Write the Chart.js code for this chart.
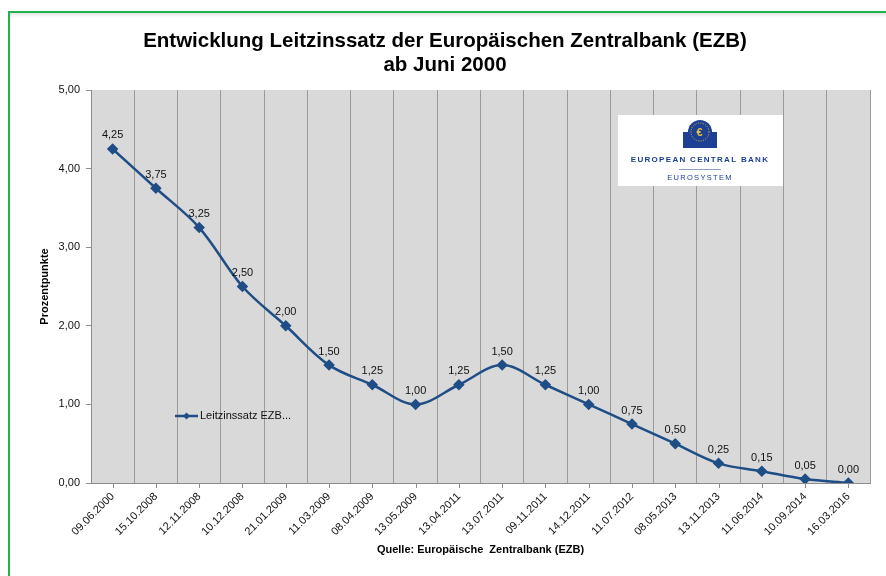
<!DOCTYPE html>
<html>
<head>
<meta charset="utf-8">
<script src="https://cdn.jsdelivr.net/npm/chart.js@4.4.1/dist/chart.umd.min.js"></script>
<style>
  html, body { margin: 0; padding: 0; background: #fff; }
  #frame {
    position: absolute; left: 8px; top: 11px; width: 900px; height: 600px;
    border-left: 2px solid #22b14c; border-top: 2px solid #22b14c;
    box-shadow: inset 0 4px 4px -2px rgba(0,0,0,0.12);
  }
  #wrap { position: absolute; left: 0; top: 0; width: 886px; height: 576px; }
</style>
</head>
<body>
<div id="frame"></div>
<div id="wrap"><canvas id="zinsChart" width="886" height="576"></canvas></div>
<script>
// Daten
const dates = ['09.06.2000', '15.10.2008', '12.11.2008', '10.12.2008', '21.01.2009', '11.03.2009',
  '08.04.2009', '13.05.2009', '13.04.2011', '13.07.2011', '09.11.2011', '14.12.2011',
  '11.07.2012', '08.05.2013', '13.11.2013', '11.06.2014', '10.09.2014', '16.03.2016'];
const leitzins = [4.25, 3.75, 3.25, 2.50, 2.00, 1.50, 1.25, 1.00, 1.25, 1.50, 1.25, 1.00, 0.75, 0.50, 0.25, 0.15, 0.05, 0.00];
const yTicks = [0, 1, 2, 3, 4, 5];

const lineColor = '#1F4E86';
const fmt = v => v.toFixed(2).replace('.', ',');

// Hintergrund, Titel, Werte, Legende und Logo
const deko = {
  id: 'deko',
  beforeDraw(chart) {
    const { ctx, chartArea: a } = chart;
    ctx.save();
    ctx.fillStyle = '#d9d9d9';
    ctx.fillRect(a.left, a.top, a.right - a.left, a.bottom - a.top);
    ctx.restore();
  },
  afterDatasetsDraw(chart) {
    const { ctx, chartArea: a, scales } = chart;
    ctx.save();
    // Tick-Striche unter der x-Achse
    ctx.strokeStyle = '#8c8c8c';
    ctx.lineWidth = 1;
    dates.forEach((d, i) => {
      const x = Math.round(scales.x.getPixelForValue(i)) + 0.5;
      ctx.beginPath();
      ctx.moveTo(x, a.bottom);
      ctx.lineTo(x, a.bottom + 5);
      ctx.stroke();
    });

    // Datenbeschriftung
    ctx.fillStyle = '#111';
    ctx.font = '11px "Liberation Sans", Arial, sans-serif';
    ctx.textAlign = 'center';
    ctx.textBaseline = 'bottom';
    chart.getDatasetMeta(0).data.forEach((p, i) => {
      ctx.fillText(fmt(leitzins[i]), p.x, p.y - 8);
    });

    // Titel
    ctx.fillStyle = '#000';
    ctx.font = 'bold 20.5px "Liberation Sans", Arial, sans-serif';
    ctx.textBaseline = 'middle';
    ctx.fillText('Entwicklung Leitzinssatz der Europäischen Zentralbank (EZB)', 445, 41);
    ctx.fillText('ab Juni 2000', 445, 65);

    // Legende
    ctx.strokeStyle = lineColor;
    ctx.lineWidth = 2.5;
    ctx.beginPath();
    ctx.moveTo(175, 416);
    ctx.lineTo(198, 416);
    ctx.stroke();
    ctx.fillStyle = lineColor;
    ctx.beginPath();
    ctx.moveTo(186.5, 412.5); ctx.lineTo(190, 416); ctx.lineTo(186.5, 419.5); ctx.lineTo(183, 416);
    ctx.closePath(); ctx.fill();
    ctx.fillStyle = '#111';
    ctx.font = '11px "Liberation Sans", Arial, sans-serif';
    ctx.textAlign = 'left';
    ctx.fillText('Leitzinssatz EZB...', 200, 416);

    // EZB-Logo
    ctx.fillStyle = '#fff';
    ctx.fillRect(618, 115, 165, 71);
    ctx.fillStyle = '#1d3f94';
    ctx.fillRect(683, 132, 34, 16);
    ctx.beginPath();
    ctx.arc(700, 132, 12, 0, Math.PI * 2);
    ctx.fill();
    ctx.strokeStyle = '#e6c43a';
    ctx.lineWidth = 1;
    ctx.setLineDash([1, 1.5]);
    ctx.beginPath();
    ctx.arc(700, 132, 9, 0, Math.PI * 2);
    ctx.stroke();
    ctx.setLineDash([]);
    ctx.fillStyle = '#e6c43a';
    ctx.font = 'bold 11px "Liberation Sans", Arial, sans-serif';
    ctx.textAlign = 'center';
    ctx.fillText('€', 699.5, 133);
    ctx.fillStyle = '#1d3f94';
    ctx.font = 'bold 8px "Liberation Sans", Arial, sans-serif';
    ctx.letterSpacing = '1.3px';
    ctx.fillText('EUROPEAN CENTRAL BANK', 700, 160);
    ctx.font = '7.5px "Liberation Sans", Arial, sans-serif';
    ctx.fillText('EUROSYSTEM', 700, 178);
    ctx.letterSpacing = '0px';
    ctx.strokeStyle = '#8fa0c8';
    ctx.lineWidth = 1;
    ctx.beginPath();
    ctx.moveTo(679, 169.5);
    ctx.lineTo(721, 169.5);
    ctx.stroke();
    ctx.restore();
  }
};

new Chart(document.getElementById('zinsChart'), {
  type: 'line',
  data: {
    labels: dates,
    datasets: [{
      label: 'Leitzinssatz EZB',
      data: leitzins,
      borderColor: lineColor,
      backgroundColor: lineColor,
      borderWidth: 2.5,
      tension: 0.35,
      pointStyle: 'rectRot',
      pointRadius: 4,
      pointBackgroundColor: lineColor,
      pointBorderColor: lineColor,
      fill: false
    }]
  },
  options: {
    responsive: false,
    animation: false,
    layout: { padding: { top: 90, left: 36, right: 16, bottom: 15 } },
    plugins: {
      legend: { display: false },
      title: { display: false },
      tooltip: { enabled: false }
    },
    scales: {
      x: {
        offset: true,
        grid: { offset: true, drawTicks: false, color: '#9a9a9a', lineWidth: 1 },
        border: { color: '#8c8c8c' },
        ticks: {
          maxRotation: 45, minRotation: 45, autoSkip: false, padding: 7,
          color: '#111', font: { family: '"Liberation Sans", Arial, sans-serif', size: 11 }
        },
        title: {
          display: true, text: 'Quelle: Europäische  Zentralbank (EZB)', color: '#000',
          font: { family: '"Liberation Sans", Arial, sans-serif', size: 11, weight: 'bold' },
          padding: { top: 0, bottom: 4 }
        },
        afterFit(s) { s.height = 78; }
      },
      y: {
        min: 0, max: 5,
        afterBuildTicks(s) { s.ticks = yTicks.map(v => ({ value: v })); },
        grid: { drawOnChartArea: false, tickLength: 5, color: '#8c8c8c' },
        border: { color: '#8c8c8c' },
        ticks: {
          padding: 6, color: '#111', callback: v => fmt(v),
          font: { family: '"Liberation Sans", Arial, sans-serif', size: 11 }
        },
        title: {
          display: true, text: 'Prozentpunkte', color: '#000',
          font: { family: '"Liberation Sans", Arial, sans-serif', size: 11, weight: 'bold' },
          padding: 2
        },
        afterFit(s) { s.width = 55; }
      }
    }
  },
  plugins: [deko]
});
</script>
</body>
</html>
